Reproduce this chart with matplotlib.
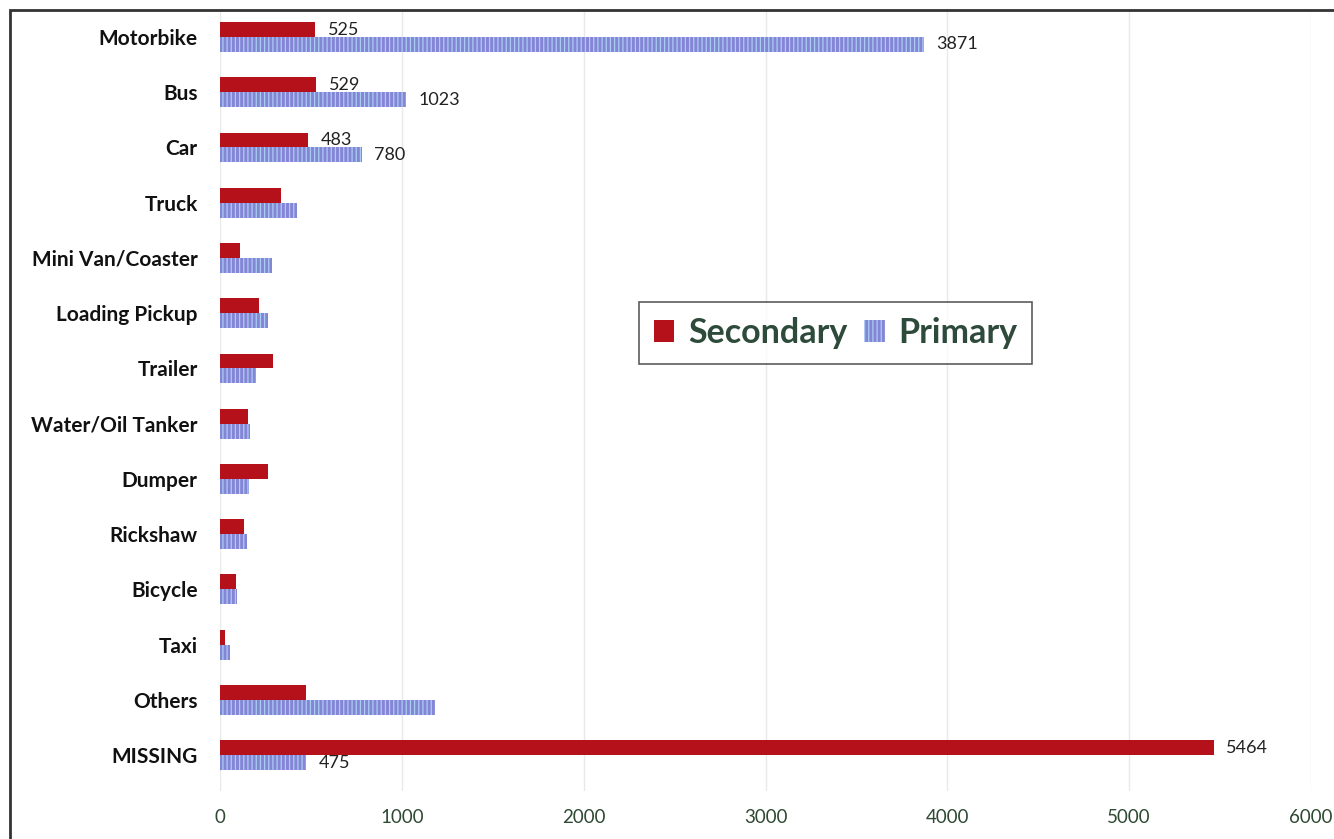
import matplotlib
matplotlib.use('Agg')
import matplotlib.pyplot as plt
import matplotlib.patches as patches
import numpy as np

categories = ['Motorbike', 'Bus', 'Car', 'Truck', 'Mini Van/Coaster', 'Loading Pickup',
              'Trailer', 'Water/Oil Tanker', 'Dumper', 'Rickshaw', 'Bicycle', 'Taxi',
              'Others', 'MISSING']
secondary = [525, 529, 483, 338, 110, 216, 293, 156, 266, 134, 88, 27, 473, 5464]
primary = [3871, 1023, 780, 421, 284, 262, 198, 165, 161, 147, 92, 55, 1183, 475]
labelled = ['Motorbike', 'Bus', 'Car', 'MISSING']
xticks = [0, 1000, 2000, 3000, 4000, 5000, 6000]

plt.rcParams['font.family'] = ['Lato', 'DejaVu Sans']
plt.rcParams['hatch.linewidth'] = 0.9

W, H = 1334, 839
fig = plt.figure(figsize=(W / 100, H / 100), dpi=100)
ax = fig.add_axes([220 / W, 1 - 791 / H, 1091 / W, (791 - 9.4) / H])

y = np.arange(len(categories))
bh = 0.27
ax.barh(y - bh / 2, secondary, height=bh, color='#B5111B', linewidth=0, label='Secondary', zorder=3)
ax.barh(y + bh / 2, primary, height=bh, color='#8585D6', edgecolor='#ABCDF4', hatch='||||',
        linewidth=0, label='Primary', zorder=3)

for i, c in enumerate(categories):
    if c in labelled:
        ax.annotate(str(secondary[i]), (secondary[i], i - bh / 2), xytext=(9, 0),
                    textcoords='offset points', va='center', ha='left', fontsize=13, color='#222222')
        ax.annotate(str(primary[i]), (primary[i], i + bh / 2), xytext=(9, 0),
                    textcoords='offset points', va='center', ha='left', fontsize=13, color='#222222')

ax.set_xlim(0, 6000)
ax.set_ylim(13.65, -0.5)
ax.set_yticks(y)
ax.set_yticklabels(categories, fontsize=15, fontweight='bold', color='#111111')
ax.set_xticks(xticks)
ax.set_xticklabels([str(t) for t in xticks], fontsize=13.5, color='#2E4A33')
ax.tick_params(axis='y', length=0, pad=16)
ax.tick_params(axis='x', length=0, pad=13)
ax.grid(axis='x', color='#E8EAE8', linewidth=1, zorder=0)
for s in ax.spines.values():
    s.set_visible(False)

leg = fig.legend(loc='center', bbox_to_anchor=(835.5 / W, 1 - 333 / H), ncol=2,
                 prop={'size': 24.5, 'weight': 'bold'}, frameon=True, fancybox=False,
                 handlelength=0.6, handleheight=0.6, handletextpad=0.4, columnspacing=0.5,
                 borderpad=0.45, borderaxespad=0)
leg.get_frame().set_edgecolor('#333333')
leg.get_frame().set_linewidth(1.2)
for t in leg.get_texts():
    t.set_color('#2E4A3A')

fig.patches.append(patches.Rectangle((10 / W, -0.1), 2, 1.1 - 10 / H, transform=fig.transFigure,
                                     fill=False, edgecolor='#333333', linewidth=2))

fig.savefig('out.png', dpi=100)
